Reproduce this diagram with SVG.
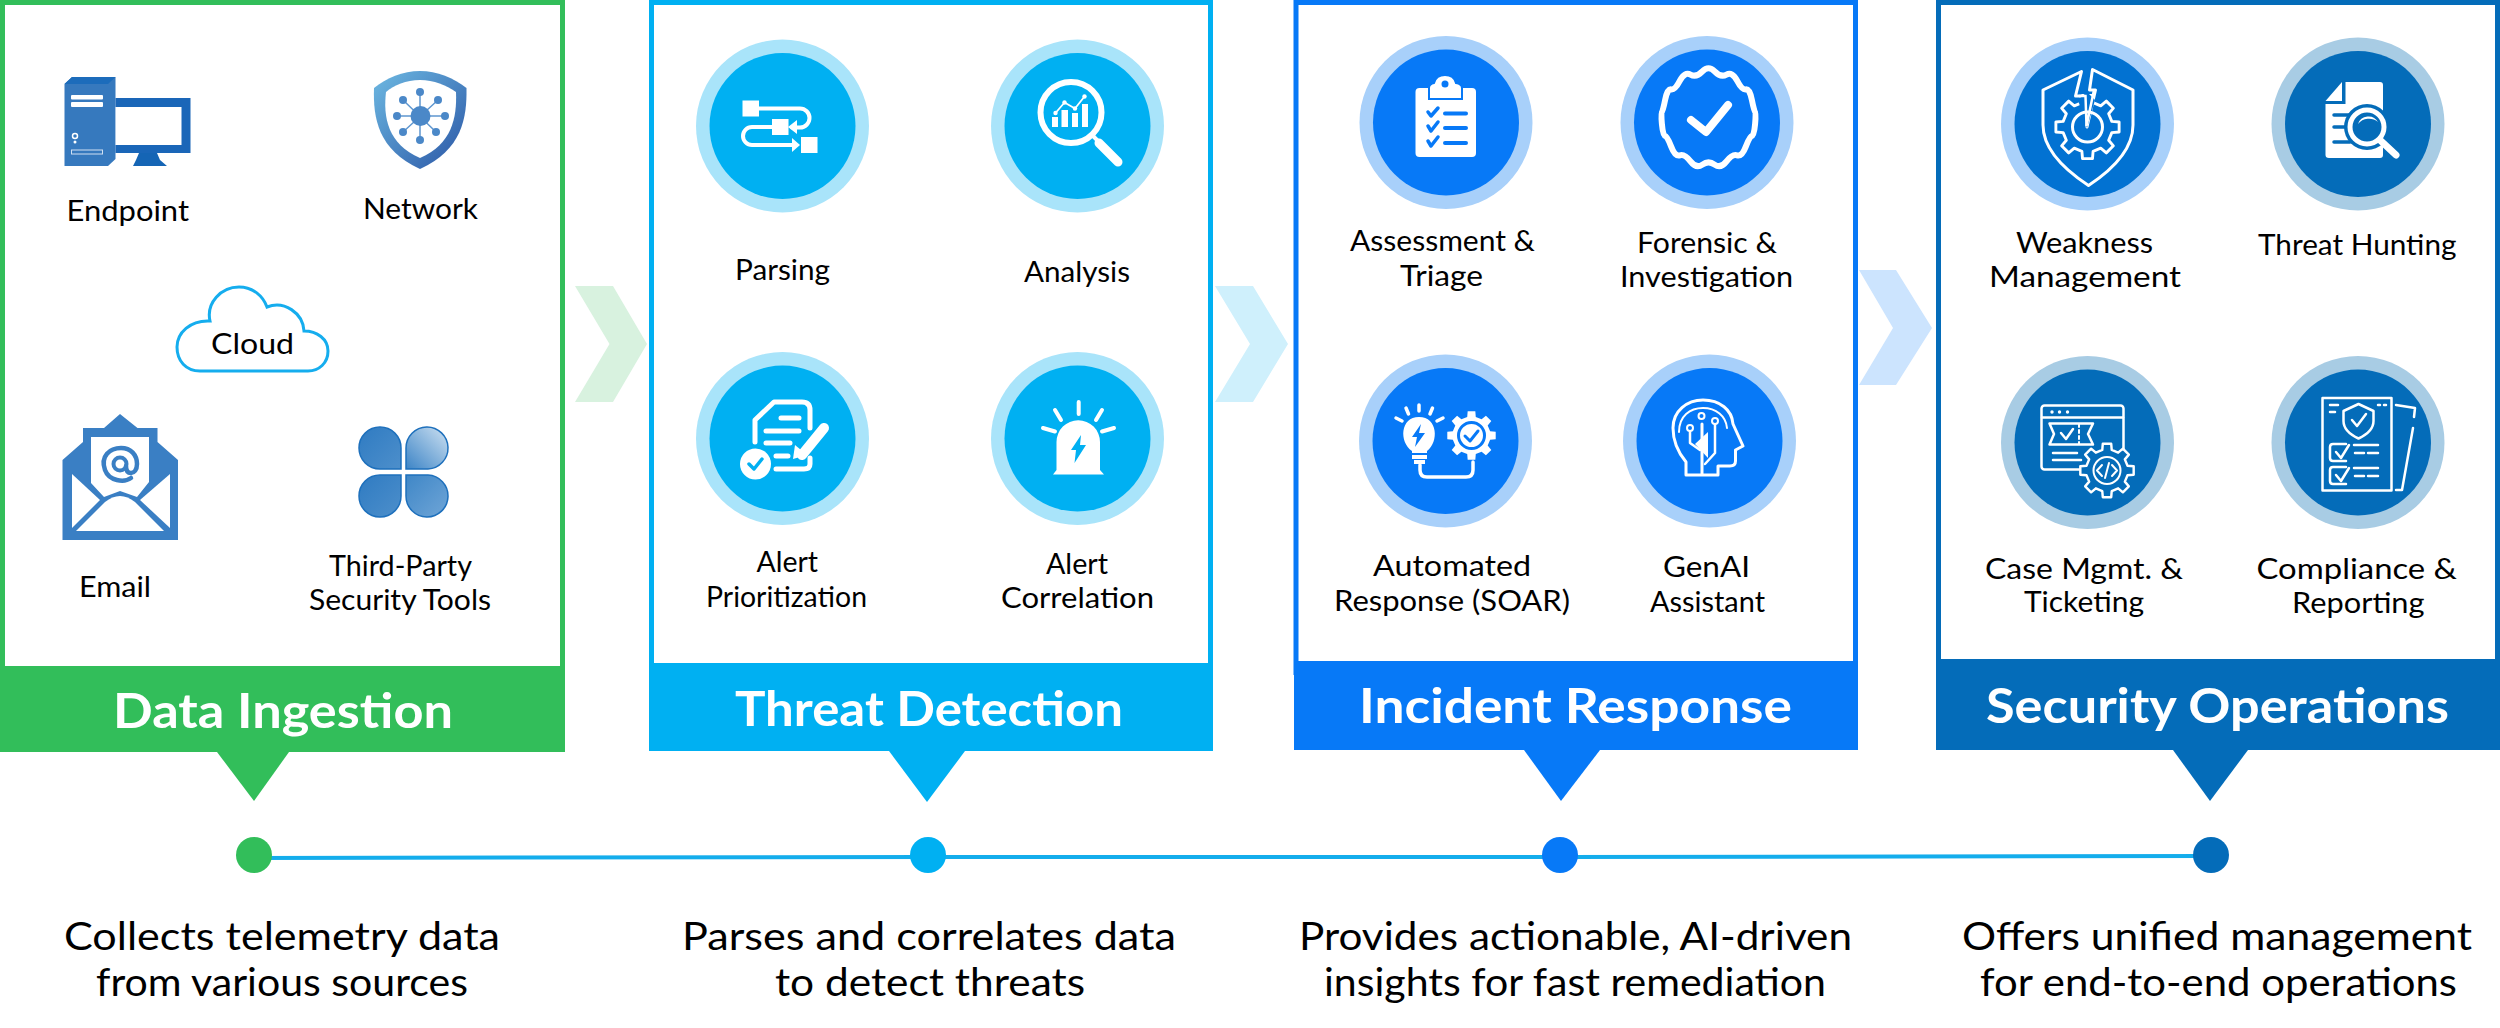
<svg xmlns="http://www.w3.org/2000/svg" width="2500" height="1028" viewBox="0 0 2500 1028">
<style>
text{font-family:"Lato","Liberation Sans",sans-serif;fill:#000}
.l{font-size:29px}
.t{font-size:48px;font-weight:700;fill:#fff}
.d{font-size:38px}
.w{fill:#fff}
.ws{fill:none;stroke:#fff;stroke-linecap:round;stroke-linejoin:round}
.cy{fill:#00B0F2}.bl{fill:#0779F7}.na{fill:#046CB9}
.cys{stroke:#00B0F2;fill:none;stroke-linecap:round;stroke-linejoin:round}
.bls{stroke:#0779F7;fill:none;stroke-linecap:round;stroke-linejoin:round}
.nas{stroke:#046CB9;fill:none;stroke-linecap:round;stroke-linejoin:round}
</style>
<defs>
<polygon id="gear" points="-17.5,-76 -15.6,-98.8 15.6,-98.8 17.5,-76 41.3,-66.1 58.8,-80.9 80.9,-58.8 66.1,-41.3 76,-17.5 98.8,-15.6 98.8,15.6 76,17.5 66.1,41.3 80.9,58.8 58.8,80.9 41.3,66.1 17.5,76 15.6,98.8 -15.6,98.8 -17.5,76 -41.3,66.1 -58.8,80.9 -80.9,58.8 -66.1,41.3 -76,17.5 -98.8,15.6 -98.8,-15.6 -76,-17.5 -66.1,-41.3 -80.9,-58.8 -58.8,-80.9 -41.3,-66.1"/>
<linearGradient id="sh" x1="0" y1="0" x2="1" y2="1"><stop offset="0" stop-color="#6DB9E2"/><stop offset="1" stop-color="#2A55A5"/></linearGradient>
<linearGradient id="p1" x1="0" y1="0" x2="1" y2="1"><stop offset="0" stop-color="#2F7BC2"/><stop offset="1" stop-color="#4D8FCB"/></linearGradient>
<linearGradient id="p2" x1="0" y1="1" x2="1" y2="0"><stop offset="0" stop-color="#3C84C6"/><stop offset="1" stop-color="#CFE2F2"/></linearGradient>
<linearGradient id="p3" x1="0" y1="0" x2="1" y2="1"><stop offset="0" stop-color="#3F87C7"/><stop offset="1" stop-color="#6FA5D7"/></linearGradient>
</defs>

<g id="connectors">
<path d="M254 858 L928 857 L1560 857 L2211 856" fill="none" stroke="#14ADEC" stroke-width="4"/>
<polygon points="575,286 613,286 647,344 613,402 575,402 609.500,344" fill="#D8F2DF"/>
<polygon points="1215,286 1253,286 1288,344 1253,402 1215,402 1250,344" fill="#CFF0FC"/>
<polygon points="1859,270 1896,270 1932,328 1896,385 1859,385 1893,328" fill="#CCE4FE"/>
</g>

<g id="stage-data-ingestion">
<rect x="2.500" y="2.500" width="560" height="670" fill="#fff" stroke="#32BE5A" stroke-width="5"/>
<rect x="0" y="666" width="565" height="86" fill="#32BE5A"/>
<polygon points="217,752 289,752 254,801" fill="#32BE5A"/>
<text class="t" x="113" y="728" textLength="340" lengthAdjust="spacingAndGlyphs">Data Ingestion</text>
<circle cx="254" cy="855" r="18" fill="#32BE5A"/>
<text class="d" x="64" y="950" textLength="436" lengthAdjust="spacingAndGlyphs">Collects telemetry data</text>
<text class="d" x="96" y="996" textLength="372" lengthAdjust="spacingAndGlyphs">from various sources</text>
</g>
<g id="node-endpoint">
<polygon points="64.500,166 64.500,84 72,77 115.500,77 115.500,159 108,166" fill="#3679BE"/>
<polygon points="64.500,84 72,77 115.500,77 108,84" fill="#1C6CBB"/>
<rect x="115.500" y="98" width="75" height="55" fill="#1A66B8"/>
<rect x="115.500" y="107" width="66" height="38" fill="#fff"/>
<path d="M139 153H157L160 160L167 166H133L136 160Z" fill="#1565B5"/>
<rect x="71" y="95" width="32" height="4.500" rx="1" fill="#fff"/>
<rect x="71" y="102" width="32" height="5" rx="1" fill="#fff"/>
<circle cx="75" cy="136" r="2.500" fill="none" stroke="#fff" stroke-width="1.500"/>
<circle cx="75" cy="142" r="1.500" fill="#fff"/>
<rect x="71.500" y="150" width="31" height="4" fill="none" stroke="#CFE0F2" stroke-width="1"/>
<text class="l" x="66.500" y="221" textLength="122.500" lengthAdjust="spacingAndGlyphs">Endpoint</text>
</g>
<g id="node-network">
<path d="M420 71C437 71 454 78 466.500 88C467 118 462 150 420 169C378 150 373 118 374 88C386 78 403 71 420 71Z" fill="url(#sh)"/>
<path d="M420 80C434 80 446 85 456 92C457 118 452 144 420 158C388 144 383 118 386 92C394 85 406 80 420 80Z" fill="#fff"/>
<g stroke="#5F97D0" stroke-width="1.500"><path d="M420 92V140M397 116H445M403 100L436 132M438 100L403 132"/></g>
<g fill="#4B88C8"><circle cx="420.500" cy="116" r="10"/><circle cx="420" cy="92" r="4"/><circle cx="438" cy="100" r="4"/><circle cx="445" cy="116" r="4"/><circle cx="436" cy="132" r="4"/><circle cx="420" cy="140" r="4"/><circle cx="403" cy="132" r="4"/><circle cx="397" cy="116" r="4"/><circle cx="403" cy="100" r="4"/></g>
<text class="l" x="363" y="219" textLength="115" lengthAdjust="spacingAndGlyphs">Network</text>
</g>
<g id="node-cloud">
<path d="M200 371C186 371 177 361 177 347C177 333 190 320 210 321C206 303 221 287 239 287C253 287 263 296 267 307C284 300 303 313 304 331C317 331 328 339 328 351C328 363 319 371 308 371Z" fill="#fff" stroke="#15ADEE" stroke-width="3"/>
<text class="l" x="211" y="354" textLength="83" lengthAdjust="spacingAndGlyphs">Cloud</text>
</g>
<g id="node-email">
<polygon points="62.500,460 83,442 83,428 104,428 120,414 137.500,428 157.500,428 157.500,442 178,460 178,540 62.500,540" fill="#3A7FC4"/>
<polygon points="91,437 149,437 149,482 137,497 120,491 104,497 91,483" fill="#fff"/>
<path d="M131 478C124 483 109 481 105 470C100 456 110 448 121 448C131 448 137 455 137 464C137 470 134 473 131 473C127 473 126 470 126 466" fill="none" stroke="#3A7FC4" stroke-width="4.500" stroke-linecap="round"/>
<circle cx="120" cy="464" r="6.500" fill="none" stroke="#3A7FC4" stroke-width="4"/>
<polygon points="72,474 100,500 72,528" fill="#fff"/>
<polygon points="170,474 170,528 140,500" fill="#fff"/>
<path d="M76 531L105 502Q120 490 135 502L164 531Z" fill="#fff"/>
<text class="l" x="79" y="597" textLength="72" lengthAdjust="spacingAndGlyphs">Email</text>
</g>
<g id="node-third-party">
<g stroke="#1E70BC" stroke-width="1.500">
<path d="M401 469H380A21 21 0 1 1 401 448Z" fill="url(#p1)"/>
<path d="M406 469H428A21 21 0 1 0 406 448Z" fill="url(#p2)"/>
<path d="M401 475H380A21 21 0 1 0 401 496Z" fill="url(#p1)"/>
<path d="M406 475H428A21 21 0 1 1 406 496Z" fill="url(#p3)"/>
</g>
<text class="l" x="329" y="576" textLength="143" lengthAdjust="spacingAndGlyphs">Third-Party</text>
<text class="l" x="309" y="610" textLength="182" lengthAdjust="spacingAndGlyphs">Security Tools</text>
</g>

<g id="stage-threat-detection">
<rect x="651.500" y="2.500" width="559" height="670" fill="#fff" stroke="#00B0F2" stroke-width="5"/>
<rect x="649" y="663" width="564" height="88" fill="#00B0F2"/>
<polygon points="889,751 965,751 927,802" fill="#00B0F2"/>
<text class="t" x="735" y="726" textLength="388" lengthAdjust="spacingAndGlyphs">Threat Detection</text>
<circle cx="928" cy="855" r="18" fill="#00B0F2"/>
<text class="d" x="682" y="950" textLength="494" lengthAdjust="spacingAndGlyphs">Parses and correlates data</text>
<text class="d" x="775" y="996" textLength="310" lengthAdjust="spacingAndGlyphs">to detect threats</text>
</g>
<g id="node-parsing">
<circle cx="782.500" cy="126" r="86.500" fill="#A9E4FA"/><circle cx="782.500" cy="126" r="73" class="cy"/>
<g class="w"><rect x="742.500" y="100.500" width="16.500" height="16"/><rect x="772" y="119" width="16.500" height="16"/><rect x="801" y="137" width="16.500" height="16"/>
<polygon points="788,127 797,120 797,134"/><polygon points="800,145 792,138 792,152"/></g>
<path d="M758 108.500H800A9.500 9.500 0 0 1 800 127.500H792M772 127H752A9 9 0 0 0 752 145H796" class="ws" stroke-width="4"/>
<text class="l" x="735" y="280" textLength="95" lengthAdjust="spacingAndGlyphs">Parsing</text>
</g>
<g id="node-analysis">
<circle cx="1077.500" cy="126" r="86.500" fill="#A9E4FA"/><circle cx="1077.500" cy="126" r="73" class="cy"/>
<circle cx="1071" cy="112.500" r="30.500" class="ws" stroke-width="6"/>
<path d="M1092 135L1099 142" class="ws" stroke-width="4"/>
<path d="M1099 143L1118 162" class="ws" stroke-width="9"/>
<g class="w"><rect x="1052" y="117" width="6" height="10"/><rect x="1061.500" y="110" width="6.500" height="17"/><rect x="1072" y="113" width="6" height="14"/><rect x="1082" y="104" width="6" height="23"/>
<circle cx="1055.500" cy="113" r="2.200"/><circle cx="1064.500" cy="102.500" r="2.200"/><circle cx="1075" cy="108.500" r="2.200"/><circle cx="1084.500" cy="96.500" r="2.200"/></g>
<path d="M1055.500 113L1064.500 102.500L1075 108.500L1084.500 96.500" class="ws" stroke-width="1.800"/>
<text class="l" x="1024" y="282" textLength="106" lengthAdjust="spacingAndGlyphs">Analysis</text>
</g>
<g id="node-alert-prioritization">
<circle cx="782.500" cy="438.500" r="86.500" fill="#A9E4FA"/><circle cx="782.500" cy="438.500" r="73" class="cy"/>
<path d="M755 442V420L774 402H802Q810 402 810 410V428M810 458V464Q810 469 804 469H776" class="ws" stroke-width="5"/>
<path d="M781 418H799M766 431H799M766 443H790M776 456H788" class="ws" stroke-width="5"/>
<path d="M824 428L802 455" class="ws" stroke-width="10" stroke-linecap="butt"/>
<polygon points="793,459 795,445 807,455" fill="#fff"/>
<circle cx="755.500" cy="464" r="15.500" class="w"/>
<path d="M749 464L754 469L762 459" class="cys" stroke-width="3.500"/>
<text class="l" x="756.500" y="572" textLength="61.500" lengthAdjust="spacingAndGlyphs">Alert</text>
<text class="l" x="706" y="607" textLength="161" lengthAdjust="spacingAndGlyphs">Prioritization</text>
</g>
<g id="node-alert-correlation">
<circle cx="1077.500" cy="438.500" r="86.500" fill="#A9E4FA"/><circle cx="1077.500" cy="438.500" r="73" class="cy"/>
<path d="M1056.500 470V442A21.750 21.750 0 0 1 1100 442V470L1104 474.500H1053Z" class="w"/>
<polygon points="1081,435 1071,450 1076,450 1074.500,463 1086,445 1080,445" class="cy"/>
<path d="M1078.700 402V414M1055 410L1061 420M1102 410L1096 420M1043 428L1055 431.500M1114 428L1102 431.500" class="ws" stroke-width="4"/>
<text class="l" x="1046" y="574" textLength="62" lengthAdjust="spacingAndGlyphs">Alert</text>
<text class="l" x="1001" y="608" textLength="153" lengthAdjust="spacingAndGlyphs">Correlation</text>
</g>

<g id="stage-incident-response">
<rect x="1296" y="2.500" width="559.500" height="670" fill="#fff" stroke="#0779F7" stroke-width="5"/>
<rect x="1294" y="661" width="564" height="89" fill="#0779F7"/>
<polygon points="1524,750 1600,750 1561,801" fill="#0779F7"/>
<text class="t" x="1359" y="723" textLength="433" lengthAdjust="spacingAndGlyphs">Incident Response</text>
<circle cx="1560" cy="855" r="18" fill="#0779F7"/>
<text class="d" x="1299" y="950" textLength="553" lengthAdjust="spacingAndGlyphs">Provides actionable, AI-driven</text>
<text class="d" x="1324" y="996" textLength="502" lengthAdjust="spacingAndGlyphs">insights for fast remediation</text>
</g>
<g id="node-assessment">
<circle cx="1446" cy="122.500" r="86.500" fill="#A8D0FA"/><circle cx="1446" cy="122.500" r="73" class="bl"/>
<rect x="1415.500" y="88" width="60.500" height="69" rx="4" class="w"/>
<path d="M1429 99V88Q1429 84 1434 83Q1436 75 1445 75Q1454 75 1456 83Q1462 84 1462 88V99Z" class="w" stroke="#0779F7" stroke-width="2"/>
<circle cx="1445" cy="84" r="3.500" class="bl"/>
<path d="M1428 112L1431 116L1438 108M1428 126L1431 131L1438 122M1428 141L1431 146L1438 137" class="bls" stroke-width="3.500"/>
<path d="M1445 113.500H1466M1445 128H1466M1445 143H1466" class="bls" stroke-width="4" stroke-linecap="butt"/>
<text class="l" x="1350" y="251" textLength="185" lengthAdjust="spacingAndGlyphs">Assessment &amp;</text>
<text class="l" x="1400" y="286" textLength="83" lengthAdjust="spacingAndGlyphs">Triage</text>
</g>
<g id="node-forensic">
<circle cx="1707" cy="122.500" r="86.500" fill="#A8D0FA"/><circle cx="1707" cy="122.500" r="73" class="bl"/>
<path transform="translate(1708.500 118)" d="M-6.100 -46.600Q0 -53 6.100 -46.600T18 -43.400T28.600 -37.300T37.300 -28.600T43.400 -18T46.600 -6.100T46.600 6.100T43.400 18T37.300 28.600T28.600 37.300T18 43.400T6.100 46.600T-6.100 46.600T-18 43.400T-28.600 37.300T-37.300 28.600T-43.400 18T-46.600 6.100T-46.600 -6.100T-43.400 -18T-37.300 -28.600T-28.600 -37.300T-18 -43.400T-6.100 -46.600Z" class="ws" stroke-width="6"/>
<path d="M1691 120L1706 132L1728 105" class="ws" stroke-width="8"/>
<text class="l" x="1637" y="253" textLength="140" lengthAdjust="spacingAndGlyphs">Forensic &amp;</text>
<text class="l" x="1620" y="287" textLength="173" lengthAdjust="spacingAndGlyphs">Investigation</text>
</g>
<g id="node-automated">
<circle cx="1445.500" cy="441" r="86.500" fill="#A8D0FA"/><circle cx="1445.500" cy="441" r="73" class="bl"/>
<path d="M1412 451C1399 442 1400 417 1419 417C1438 417 1439 442 1427 451V453H1412Z" class="w"/>
<rect x="1412" y="455" width="15" height="4" class="w"/><rect x="1414" y="460" width="11" height="4" class="w"/>
<polygon points="1421,424 1412,437 1417,437 1415,447 1425,433 1419,433" class="bl"/>
<path d="M1420 465V470Q1420 477 1427 477H1466Q1473 477 1473 470V462" class="ws" stroke-width="3.500"/>
<path d="M1419 405V411M1406 408L1408.500 414M1432.500 408L1430 414M1396 418L1402 421M1443 418L1437 421" class="ws" stroke-width="3.500"/>
<use href="#gear" transform="translate(1471.500 435.500) scale(.245)" class="w"/>
<circle cx="1471.500" cy="435.500" r="13" class="w" stroke="#0779F7" stroke-width="3"/>
<path d="M1465 436L1470 441L1478 431" class="bls" stroke-width="3"/>
<text class="l" x="1373" y="576" textLength="158" lengthAdjust="spacingAndGlyphs">Automated</text>
<text class="l" x="1334" y="611" textLength="236" lengthAdjust="spacingAndGlyphs">Response (SOAR)</text>
</g>
<g id="node-genai">
<circle cx="1709.500" cy="441" r="86.500" fill="#A8D0FA"/><circle cx="1709.500" cy="441" r="73" class="bl"/>
<path d="M1686 475V462C1676 450 1673 440 1673 428C1673 411 1687 400 1703 400C1720 400 1732 410 1733 424L1743 446L1735.500 450V461Q1735.500 466 1730 466H1718V475H1686M1702 475V424" class="ws" stroke-width="3"/>
<path d="M1679 432C1679 416 1690 408 1703 408C1716 408 1726 416 1727 428" class="ws" stroke-width="2"/>
<path d="M1715 424V453L1705 464M1690 432V443L1700 450" class="ws" stroke-width="2.500"/>
<path d="M1695 444L1708 432V458Z" class="w"/>
<g fill="#0779F7" stroke="#fff" stroke-width="2"><circle cx="1701.500" cy="416" r="3"/><circle cx="1715" cy="421" r="3"/><circle cx="1690" cy="428" r="3"/></g>
<text class="l" x="1663" y="577" textLength="87" lengthAdjust="spacingAndGlyphs">GenAI</text>
<text class="l" x="1650" y="612" textLength="115" lengthAdjust="spacingAndGlyphs">Assistant</text>
</g>

<g id="stage-security-operations">
<rect x="1938.500" y="2.500" width="559" height="670" fill="#fff" stroke="#046CB9" stroke-width="5"/>
<rect x="1936" y="659" width="564" height="91" fill="#046CB9"/>
<polygon points="2173,750 2248,750 2210,801" fill="#046CB9"/>
<text class="t" x="1986" y="723" textLength="463" lengthAdjust="spacingAndGlyphs">Security Operations</text>
<circle cx="2211" cy="855" r="18" fill="#046CB9"/>
<text class="d" x="1962" y="950" textLength="510" lengthAdjust="spacingAndGlyphs">Offers unified management</text>
<text class="d" x="1980" y="996" textLength="477" lengthAdjust="spacingAndGlyphs">for end-to-end operations</text>
</g>
<g id="node-weakness">
<circle cx="2087.500" cy="124" r="86.500" fill="#A8D0FA"/><circle cx="2087.500" cy="124" r="73" fill="#0272D2"/>
<path d="M2081.500 71.500L2043 90V125C2043 150 2065 170 2088.500 185.500C2112 170 2133 150 2133 125V90L2092.500 69.500L2089.500 90H2095.500L2087 127L2085.500 96H2075.500Z" class="ws" stroke-width="3"/>
<use href="#gear" transform="translate(2087.500 127) scale(.32)" fill="none" stroke="#fff" stroke-width="9" stroke-linejoin="round"/>
<path d="M2078 100L2087 92L2095 100L2087 128Z" fill="#0272D2"/>
<path d="M2079 96H2085.500L2086.500 126L2094 90" fill="none" stroke="#fff" stroke-width="2.500"/>
<circle cx="2087.500" cy="127" r="15" fill="none" stroke="#fff" stroke-width="3"/>
<text class="l" x="2016" y="253" textLength="137" lengthAdjust="spacingAndGlyphs">Weakness</text>
<text class="l" x="1989" y="287" textLength="192" lengthAdjust="spacingAndGlyphs">Management</text>
</g>
<g id="node-threat-hunting">
<circle cx="2358" cy="124" r="86.500" fill="#A8CCE4"/><circle cx="2358" cy="124" r="73" class="na"/>
<polygon points="2342,82 2325.500,101 2342,101" class="w"/>
<path d="M2345.500 82H2380Q2383 82 2383 85V155Q2383 158 2380 158H2329Q2325.500 158 2325.500 155V104H2345.500Z" class="w"/>
<path d="M2334 115H2350M2334 127H2350M2334 142H2350" class="nas" stroke-width="3.500" stroke-linecap="butt"/>
<circle cx="2367" cy="127" r="23" class="na"/>
<circle cx="2367" cy="127" r="17" class="na" stroke="#fff" stroke-width="5"/>
<path d="M2381 141L2396 155" class="ws" stroke-width="7"/>
<path d="M2358 124A11 11 0 0 1 2378 122A14 14 0 0 0 2358 124Z" class="w"/>
<text class="l" x="2258" y="255" textLength="198.500" lengthAdjust="spacingAndGlyphs">Threat Hunting</text>
</g>
<g id="node-case-mgmt">
<circle cx="2087.500" cy="442.500" r="86.500" fill="#A8CCE4"/><circle cx="2087.500" cy="442.500" r="73" class="na"/>
<rect x="2041.500" y="405.500" width="82" height="64" rx="3" class="ws" stroke-width="2.500"/>
<path d="M2042 417.500H2123" class="ws" stroke-width="2.500"/>
<g class="w"><circle cx="2052" cy="412" r="1.700"/><circle cx="2059.500" cy="412" r="1.700"/><circle cx="2067.500" cy="412" r="1.700"/></g>
<path d="M2049.500 423.500H2093L2088 434L2093 444.500H2049.500L2054 434Z" class="ws" stroke-width="2.500"/>
<path d="M2061 433L2066 439L2073 429" class="ws" stroke-width="2.500"/>
<path d="M2079 424V444" class="ws" stroke-width="2" stroke-dasharray="3 3" stroke-linecap="butt"/>
<path d="M2053 453H2077M2053 460H2081" class="ws" stroke-width="2.500"/>
<use href="#gear" transform="translate(2107 470.500) scale(.27)" class="na" stroke="#fff" stroke-width="9" stroke-linejoin="round"/>
<circle cx="2107" cy="470.500" r="13.500" fill="none" stroke="#fff" stroke-width="2"/>
<path d="M2102 465L2097 470.500L2102 476M2112 465L2117 470.500L2112 476M2109 463L2105 478" class="ws" stroke-width="2"/>
<text class="l" x="1985" y="579" textLength="198" lengthAdjust="spacingAndGlyphs">Case Mgmt. &amp;</text>
<text class="l" x="2024" y="612" textLength="120" lengthAdjust="spacingAndGlyphs">Ticketing</text>
</g>
<g id="node-compliance">
<circle cx="2358" cy="442.500" r="86.500" fill="#A8CCE4"/><circle cx="2358" cy="442.500" r="73" class="na"/>
<rect x="2322.500" y="398" width="69" height="92.500" class="ws" stroke-width="2.500"/>
<path d="M2396 405L2415 408L2414 417M2413 428L2402 490H2396" class="ws" stroke-width="2.500"/>
<path d="M2358.500 404L2373.500 411V421C2373.500 430 2366 435 2358.500 438.500C2351 435 2343.500 430 2343.500 421V411Z" class="ws" stroke-width="2.500"/>
<path d="M2352 420L2357 426L2366 414" class="ws" stroke-width="2.500"/>
<path d="M2330 405H2338M2330 412H2335M2378 405H2380M2384 405H2386" class="ws" stroke-width="2.500"/>
<path d="M2346 444H2333Q2330 444 2330 447V458Q2330 461 2333 461H2346M2346 467H2333Q2330 467 2330 470V481Q2330 484 2333 484H2346" class="ws" stroke-width="2.500"/>
<path d="M2336 452L2341 458L2349 445M2336 475L2341 481L2349 468" class="ws" stroke-width="2.500"/>
<path d="M2354 445H2378M2355 453H2364M2368 453H2378M2354 468H2378M2355 476H2364M2368 476H2378" class="ws" stroke-width="2.500"/>
<text class="l" x="2256.500" y="579" textLength="200.500" lengthAdjust="spacingAndGlyphs">Compliance &amp;</text>
<text class="l" x="2292" y="613" textLength="132.500" lengthAdjust="spacingAndGlyphs">Reporting</text>
</g>
</svg>
